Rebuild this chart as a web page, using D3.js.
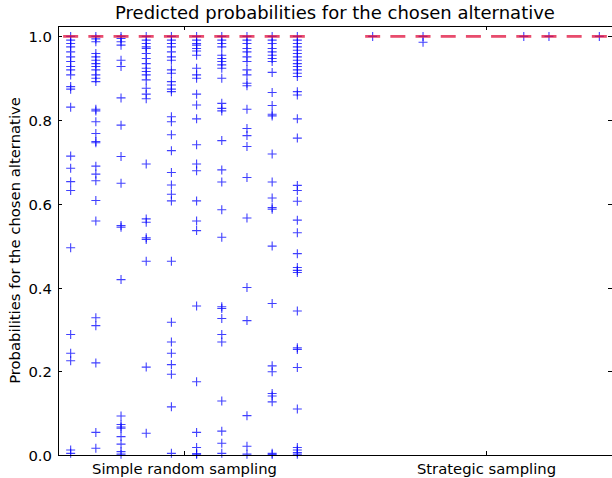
<!DOCTYPE html>
<html><head><meta charset="utf-8">
<script src="https://cdn.jsdelivr.net/npm/d3@7"></script>
<style>body{margin:0;background:#fff}svg{display:block}text{font-family:"DejaVu Sans",sans-serif}</style>
</head><body><div id="chart"></div>
<script>
const groups = ["Simple random sampling", "Strategic sampling"];
const yTicks = [0.0, 0.2, 0.4, 0.6, 0.8, 1.0];
// Simple random sampling: 10 repetitions
const srs1 = [1.0,0.991,0.983,0.975,0.963,0.951,0.940,0.928,0.920,0.908,0.880,0.874,0.831,0.714,0.685,0.653,0.632,0.495,0.288,0.243,0.225,0.012,0.004];
const srs2 = [1.0,0.994,0.987,0.959,0.951,0.943,0.935,0.928,0.920,0.908,0.900,0.892,0.826,0.822,0.796,0.768,0.749,0.746,0.690,0.671,0.655,0.608,0.559,0.328,0.309,0.220,0.054,0.016];
const srs3 = [1.0,0.995,0.987,0.979,0.943,0.928,0.853,0.788,0.713,0.649,0.548,0.544,0.419,0.093,0.073,0.067,0.064,0.044,0.026,0.008,0.002];
const srs4 = [1.0,0.991,0.983,0.975,0.971,0.959,0.947,0.935,0.924,0.916,0.908,0.896,0.876,0.862,0.851,0.695,0.564,0.556,0.519,0.515,0.463,0.210,0.052];
const srs5 = [1.0,0.991,0.983,0.975,0.963,0.951,0.943,0.920,0.912,0.892,0.884,0.874,0.868,0.808,0.796,0.765,0.727,0.675,0.645,0.623,0.607,0.463,0.317,0.270,0.243,0.216,0.193,0.115,0.004];
const srs6 = [1.0,0.991,0.983,0.979,0.971,0.965,0.955,0.924,0.908,0.900,0.862,0.836,0.803,0.741,0.695,0.679,0.607,0.559,0.536,0.356,0.175,0.054,0.018,0.003,0.002];
const srs7 = [1.0,0.991,0.983,0.975,0.955,0.947,0.940,0.932,0.924,0.900,0.840,0.828,0.822,0.751,0.681,0.652,0.586,0.520,0.354,0.350,0.326,0.288,0.270,0.129,0.057,0.028,0.004];
const srs8 = [1.0,0.991,0.983,0.971,0.963,0.951,0.940,0.920,0.908,0.888,0.882,0.826,0.780,0.763,0.737,0.663,0.566,0.400,0.321,0.094,0.021,0.002];
const srs9 = [1.0,0.991,0.983,0.971,0.963,0.955,0.947,0.940,0.914,0.866,0.835,0.814,0.810,0.719,0.652,0.614,0.591,0.587,0.499,0.362,0.213,0.199,0.147,0.141,0.127,0.004,0.001];
const srs10 = [1.0,0.991,0.983,0.975,0.967,0.959,0.951,0.943,0.935,0.928,0.920,0.912,0.904,0.868,0.860,0.803,0.757,0.644,0.632,0.606,0.561,0.531,0.481,0.448,0.441,0.436,0.344,0.256,0.252,0.209,0.110,0.018,0.012,0.006,0.002];
// Strategic sampling: 10 repetitions
const ss1 = [1.0], ss2 = [], ss3 = [1.0, 0.986], ss4 = [], ss5 = [], ss6 = [], ss7 = [1.0], ss8 = [1.0], ss9 = [], ss10 = [1.0];
const srsMedians = [1,1,1,1,1,1,1,1,1,1];
const ssMedians = [1,1,1,1,1,1,1,1,1,1];

const series = [
  [srs1,srs2,srs3,srs4,srs5,srs6,srs7,srs8,srs9,srs10],
  [ss1,ss2,ss3,ss4,ss5,ss6,ss7,ss8,ss9,ss10]
];
const medians = [srsMedians, ssMedians];

const W = 612, H = 478;
const m = {left: 58, right: 0, top: 26, bottom: 23};
const svg = d3.select("#chart").append("svg").attr("width", W).attr("height", H);

const x = d3.scaleLinear().domain([1 - 126/302, 2 + 126/302]).range([m.left, W - m.right]);
const y = d3.scaleLinear().domain([0, 1.0248]).range([H - m.bottom, m.top]);
const step = 0.0834;
const off = i => (i - 4.5) * step;

const plot = svg.append("g");
series.forEach((cols, g) => {
  cols.forEach((vals, i) => {
    const cx = x(g + 1 + off(i));
    plot.selectAll(null).data(vals).enter().append("path")
      .attr("d", d => `M${cx-4.5},${y(d)}H${cx+4.5}M${cx},${y(d)-4.5}V${y(d)+4.5}`)
      .attr("stroke", "#0000ff").attr("stroke-opacity", 0.75).attr("stroke-width", 1.1).attr("fill", "none");
  });
});
medians.forEach((meds, g) => {
  meds.forEach((v, i) => {
    const cx = x(g + 1 + off(i));
    plot.append("line").attr("x1", cx - 7.5).attr("x2", cx + 7.5).attr("y1", y(v)).attr("y2", y(v))
      .attr("stroke", "#e0103c").attr("stroke-opacity", 0.75).attr("stroke-width", 2.8);
  });
});

const ax = svg.append("g").attr("fill", "none").attr("stroke", "#000").attr("stroke-width", 1);
ax.append("rect").attr("x", m.left + 0.5).attr("y", m.top + 0.5).attr("width", W - m.right - m.left).attr("height", H - m.bottom - m.top);

yTicks.forEach(t => {
  const yy = Math.round(y(t)) + 0.5;
  ax.append("line").attr("x1", m.left).attr("x2", m.left + 4).attr("y1", yy).attr("y2", yy);
  ax.append("line").attr("x1", W - m.right - 4).attr("x2", W - m.right).attr("y1", yy).attr("y2", yy);
  svg.append("text").attr("x", m.left - 6).attr("y", yy + 5.5).attr("text-anchor", "end")
    .attr("font-size", 14.8).text(d3.format(".1f")(t));
});
groups.forEach((gname, g) => {
  const xx = Math.round(x(g + 1)) + 0.5;
  ax.append("line").attr("x1", xx).attr("x2", xx).attr("y1", H - m.bottom).attr("y2", H - m.bottom - 4);
  ax.append("line").attr("x1", xx).attr("x2", xx).attr("y1", m.top).attr("y2", m.top + 4);
  svg.append("text").attr("x", xx).attr("y", H - m.bottom + 19).attr("text-anchor", "middle")
    .attr("font-size", 14.8).text(gname);
});

svg.append("text").attr("x", (m.left + W) / 2).attr("y", 19).attr("text-anchor", "middle")
  .attr("font-size", 18).text("Predicted probabilities for the chosen alternative");
svg.append("text").attr("transform", `translate(20,${(m.top + H - m.bottom) / 2}) rotate(-90)`)
  .attr("text-anchor", "middle").attr("font-size", 14.8).text("Probabilities for the chosen alternative");
</script></body></html>
